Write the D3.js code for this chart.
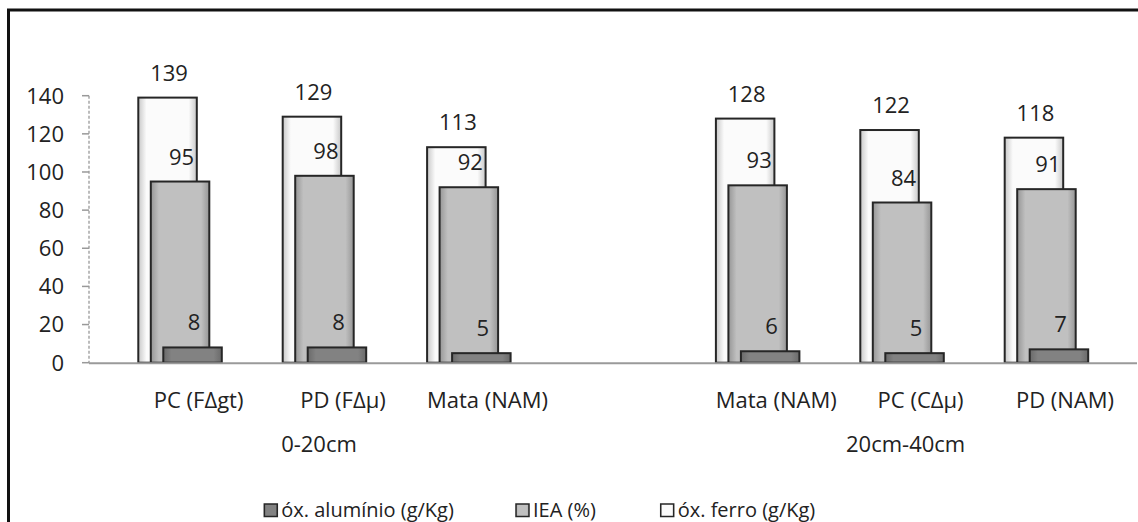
<!DOCTYPE html>
<html>
<head>
<meta charset="utf-8">
<script src="https://cdn.jsdelivr.net/npm/d3@7"></script>
<style>
  html, body { margin: 0; padding: 0; background: #fff; }
  svg { display: block; }
  text { font-family: "Open Sans", "Noto Sans", sans-serif; fill: #222; }
</style>
</head>
<body>
<script>
// ---- data ----
const categories = ["PC (F\u0394gt)", "PD (F\u0394\u03bc)", "Mata (NAM)", "", "Mata (NAM)", "PC (C\u0394\u03bc)", "PD (NAM)"];
const groupLabels = ["0-20cm", "20cm-40cm"];
const groupMembers = [[0, 1, 2], [4, 5, 6]];
const aluminio = [8, 8, 5, null, 6, 5, 7];
const iea = [95, 98, 92, null, 93, 84, 91];
const ferro = [139, 129, 113, null, 128, 122, 118];
const yTicks = [0, 20, 40, 60, 80, 100, 120, 140];
const seriesNames = ["óx. alumínio (g/Kg)", "IEA (%)", "óx. ferro (g/Kg)"];

// ---- layout ----
const W = 1138, H = 522;
const svg = d3.select("body").append("svg").attr("width", W).attr("height", H);

const defs = svg.append("defs");
function grad(id, edge, base) {
  const g = defs.append("linearGradient").attr("id", id).attr("x1", "0%").attr("x2", "100%").attr("y1", "0%").attr("y2", "0%");
  g.append("stop").attr("offset", "0%").attr("stop-color", edge);
  g.append("stop").attr("offset", "14%").attr("stop-color", base);
  g.append("stop").attr("offset", "86%").attr("stop-color", base);
  g.append("stop").attr("offset", "100%").attr("stop-color", edge);
}
grad("gFerro", "#c8c8c8", "#fbfbfb");
grad("gIea", "#969696", "#c0c0c0");
grad("gAl", "#6a6a6a", "#828282");

// frame
svg.append("rect").attr("x", 8.5).attr("y", 10).attr("width", 1300).attr("height", 700)
  .attr("fill", "none").attr("stroke", "#111").attr("stroke-width", 3);

const x = d3.scaleBand().domain(d3.range(categories.length)).range([126.4, 1137.2]).padding(0);
const y = d3.scaleLinear().domain([0, 140]).range([362.7, 95.7]);
const axisX0 = 89;

// y axis (dashed)
svg.append("line").attr("x1", axisX0).attr("x2", axisX0).attr("y1", y(140)).attr("y2", y(0))
  .attr("stroke", "#a6a6a6").attr("stroke-width", 1.5).attr("stroke-dasharray", "3,2");
const yt = svg.append("g");
yt.selectAll("line").data(yTicks).join("line")
  .attr("x1", axisX0 - 7).attr("x2", axisX0).attr("y1", d => y(d)).attr("y2", d => y(d))
  .attr("stroke", "#999").attr("stroke-width", 1.5);
yt.selectAll("text").data(yTicks).join("text")
  .attr("x", 64).attr("y", d => y(d)).attr("dy", "0.36em").attr("text-anchor", "end")
  .style("font-size", "22px").text(d => d);

// bars
const barW = 58.5;
const series = [
  { vals: ferro, fill: "url(#gFerro)", off: -60.3 },
  { vals: iea, fill: "url(#gIea)", off: -47.8 },
  { vals: aluminio, fill: "url(#gAl)", off: -35.3 }
];
const cx = i => x(i) + x.bandwidth() / 2;

series.forEach(s => {
  const data = s.vals.map((v, i) => ({ v, i })).filter(d => d.v != null);
  svg.append("g").selectAll("rect").data(data).join("rect")
    .attr("x", d => cx(d.i) + s.off)
    .attr("y", d => y(d.v))
    .attr("width", barW)
    .attr("height", d => y(0) - y(d.v))
    .attr("fill", s.fill)
    .attr("stroke", "#262626").attr("stroke-width", 2);
});
// labels (drawn after all bars)
series.forEach(s => {
  const data = s.vals.map((v, i) => ({ v, i })).filter(d => d.v != null);
  svg.append("g").selectAll("text").data(data).join("text")
    .attr("x", d => cx(d.i) + s.off + barW / 2 + 1.5)
    .attr("y", d => y(d.v) - 17)
    .attr("text-anchor", "middle")
    .style("font-size", "22px")
    .text(d => d.v);
});

// x axis line
svg.append("line").attr("x1", axisX0).attr("x2", 1137).attr("y1", y(0) + 0.5).attr("y2", y(0) + 0.5)
  .attr("stroke", "#9a9a9a").attr("stroke-width", 2);

// category labels
svg.append("g").selectAll("text").data(categories.map((c, i) => ({ c, i })).filter(d => d.c))
  .join("text")
  .attr("x", d => cx(d.i)).attr("y", 408)
  .attr("text-anchor", "middle").style("font-size", "22px")
  .text(d => d.c);

// group labels
const groupOffsets = [-24, -15];
svg.append("g").selectAll("text").data(groupLabels).join("text")
  .attr("x", (d, k) => d3.mean(groupMembers[k], cx) + groupOffsets[k])
  .attr("y", 452)
  .attr("text-anchor", "middle").style("font-size", "22px")
  .text(d => d);

// legend
const legX = [264.3, 516, 660.7];
const legFills = ["url(#gAl)", "url(#gIea)", "url(#gFerro)"];
const leg = svg.append("g");
seriesNames.forEach((n, k) => {
  leg.append("rect").attr("x", legX[k]).attr("y", 504).attr("width", 13).attr("height", 12.5)
    .attr("fill", legFills[k]).attr("stroke", "#262626").attr("stroke-width", 1.5);
  leg.append("text").attr("x", legX[k] + 17).attr("y", 516.5).style("font-size", "20px").text(n);
});
</script>
</body>
</html>
